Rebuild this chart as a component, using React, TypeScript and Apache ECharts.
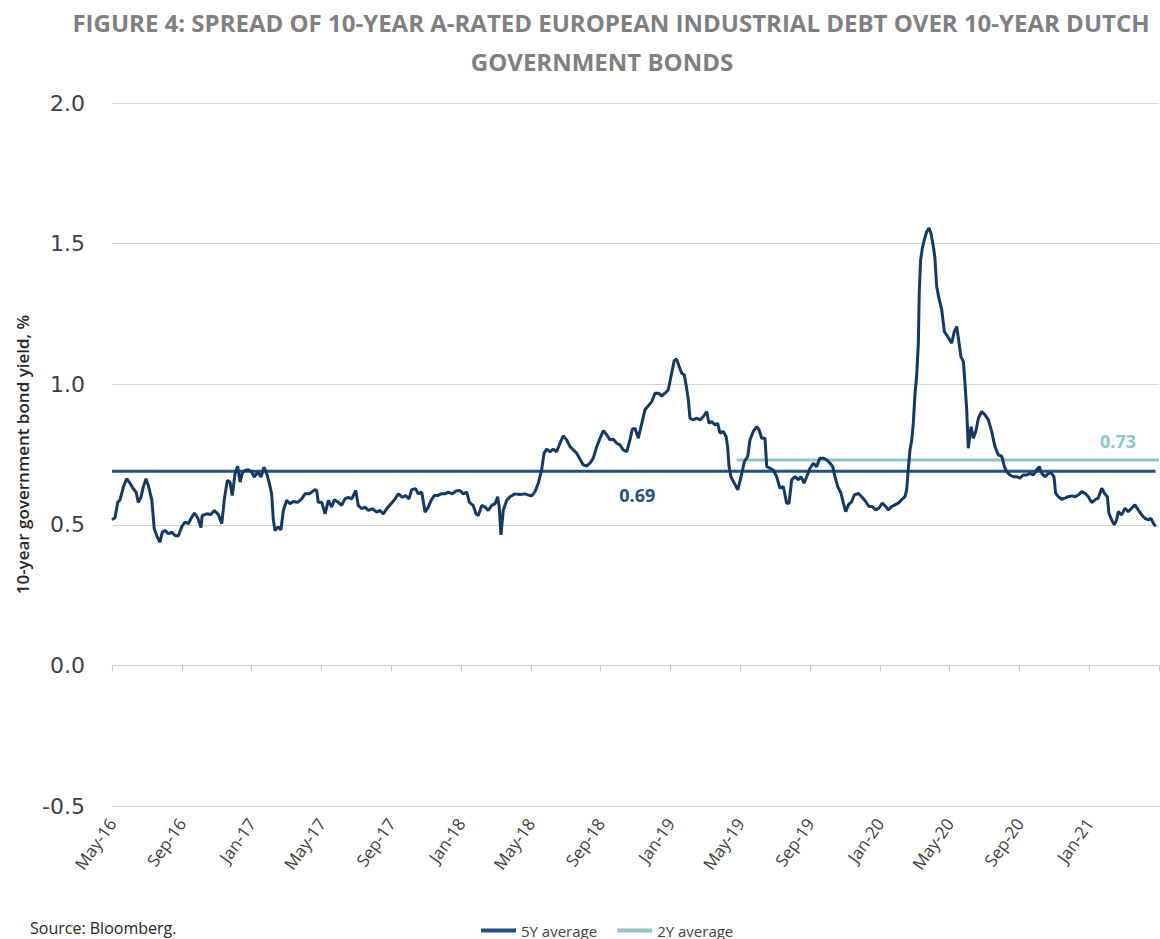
import React, { useEffect, useRef } from "react";
import * as echarts from "echarts";

const TITLE_LINE_1 = "FIGURE 4: SPREAD OF 10-YEAR A-RATED EUROPEAN INDUSTRIAL DEBT OVER 10-YEAR DUTCH";
const TITLE_LINE_2 = "GOVERNMENT BONDS";
const Y_AXIS_NAME = "10-year government bond yield, %";
const SOURCE_TEXT = "Source: Bloomberg.";

// x values are months elapsed since 1 May 2016
const xTickLabels = [
  "May-16", "Sep-16", "Jan-17", "May-17", "Sep-17", "Jan-18", "May-18", "Sep-18",
  "Jan-19", "May-19", "Sep-19", "Jan-20", "May-20", "Sep-20", "Jan-21",
];
const X_MIN = 0;
const X_MAX = 60;
const X_STEP = 4;

const Y_MIN = -0.5;
const Y_MAX = 2.0;
const Y_STEP = 0.5;

// [months since May-16, spread %]
const spread: [number, number][] = [
  [0, 0.518], [0.17, 0.525], [0.33, 0.58], [0.46, 0.589], [0.65, 0.634], [0.84, 0.664], [1.03, 0.648],
  [1.22, 0.628], [1.38, 0.616], [1.51, 0.58], [1.66, 0.598], [1.79, 0.634], [1.95, 0.664], [2.08, 0.64],
  [2.28, 0.589], [2.42, 0.486], [2.6, 0.456], [2.75, 0.438], [2.88, 0.474], [3.04, 0.48], [3.23, 0.468],
  [3.42, 0.474], [3.61, 0.462], [3.8, 0.46], [3.99, 0.492], [4.18, 0.51], [4.37, 0.504], [4.57, 0.527],
  [4.72, 0.542], [4.91, 0.525], [5.1, 0.49], [5.17, 0.533], [5.43, 0.539], [5.67, 0.537], [5.86, 0.551],
  [6.09, 0.537], [6.29, 0.504], [6.44, 0.592], [6.61, 0.658], [6.76, 0.652], [6.89, 0.604], [7.05, 0.681],
  [7.2, 0.708], [7.34, 0.652], [7.47, 0.684], [7.62, 0.693], [7.81, 0.696], [8.01, 0.687], [8.15, 0.67],
  [8.35, 0.687], [8.54, 0.67], [8.71, 0.705], [8.87, 0.681], [9.0, 0.652], [9.15, 0.61], [9.24, 0.521],
  [9.34, 0.48], [9.53, 0.492], [9.68, 0.482], [9.82, 0.551], [10.01, 0.587], [10.2, 0.575], [10.39, 0.583],
  [10.64, 0.58], [10.87, 0.592], [11.06, 0.61], [11.29, 0.61], [11.44, 0.616], [11.63, 0.625], [11.73, 0.622],
  [11.82, 0.58], [12.02, 0.58], [12.21, 0.539], [12.4, 0.587], [12.59, 0.563], [12.74, 0.589], [12.97, 0.58],
  [13.16, 0.569], [13.35, 0.592], [13.54, 0.598], [13.74, 0.592], [13.97, 0.622], [14.11, 0.569], [14.31, 0.557],
  [14.5, 0.563], [14.69, 0.551], [14.92, 0.557], [15.17, 0.545], [15.36, 0.551], [15.55, 0.539], [15.74, 0.557],
  [15.99, 0.575], [16.22, 0.592], [16.41, 0.61], [16.64, 0.598], [16.83, 0.604], [17.02, 0.592], [17.17, 0.625],
  [17.4, 0.628], [17.55, 0.61], [17.75, 0.616], [17.94, 0.545], [18.13, 0.563], [18.28, 0.587], [18.47, 0.604],
  [18.66, 0.604], [18.85, 0.61], [19.08, 0.61], [19.27, 0.616], [19.5, 0.61], [19.7, 0.62], [19.94, 0.622],
  [20.13, 0.61], [20.33, 0.616], [20.48, 0.58], [20.7, 0.569], [20.86, 0.539], [20.99, 0.533], [21.19, 0.569],
  [21.38, 0.563], [21.56, 0.551], [21.76, 0.569], [21.95, 0.575], [22.1, 0.6], [22.19, 0.563], [22.29, 0.464],
  [22.42, 0.551], [22.62, 0.587], [22.81, 0.6], [23.09, 0.61], [23.38, 0.608], [23.67, 0.61], [23.95, 0.604],
  [24.05, 0.603], [24.24, 0.618], [24.43, 0.648], [24.62, 0.695], [24.76, 0.755], [24.91, 0.769], [25.1, 0.76],
  [25.29, 0.769], [25.48, 0.76], [25.67, 0.79], [25.86, 0.816], [26.06, 0.802], [26.25, 0.778], [26.44, 0.766],
  [26.63, 0.755], [26.82, 0.733], [27.01, 0.713], [27.2, 0.709], [27.39, 0.719], [27.58, 0.737], [27.78, 0.778],
  [27.97, 0.808], [28.16, 0.835], [28.35, 0.82], [28.54, 0.802], [28.73, 0.804], [28.92, 0.79], [29.11, 0.784],
  [29.3, 0.766], [29.5, 0.76], [29.68, 0.802], [29.82, 0.84], [29.97, 0.843], [30.16, 0.808], [30.36, 0.861],
  [30.54, 0.909], [30.73, 0.923], [30.93, 0.938], [31.12, 0.968], [31.31, 0.968], [31.5, 0.958], [31.69, 0.968],
  [31.88, 0.98], [32.07, 1.039], [32.22, 1.084], [32.36, 1.089], [32.49, 1.065], [32.65, 1.039], [32.8, 1.033],
  [32.93, 0.986], [33.03, 0.944], [33.12, 0.879], [33.31, 0.873], [33.51, 0.879], [33.7, 0.873], [33.89, 0.885],
  [34.08, 0.903], [34.21, 0.861], [34.37, 0.867], [34.56, 0.855], [34.71, 0.861], [34.84, 0.826], [35.03, 0.832],
  [35.19, 0.814], [35.28, 0.778], [35.36, 0.707], [35.47, 0.671], [35.66, 0.648], [35.86, 0.624], [36.05, 0.671],
  [36.24, 0.725], [36.43, 0.743], [36.56, 0.802], [36.75, 0.832], [36.95, 0.849], [37.08, 0.838], [37.23, 0.808],
  [37.42, 0.808], [37.52, 0.707], [37.71, 0.701], [37.9, 0.695], [38.09, 0.671], [38.28, 0.63], [38.47, 0.636],
  [38.66, 0.577], [38.8, 0.577], [38.95, 0.66], [39.14, 0.671], [39.33, 0.66], [39.48, 0.671], [39.66, 0.648],
  [39.81, 0.671], [40.0, 0.701], [40.19, 0.719], [40.38, 0.707], [40.57, 0.737], [40.76, 0.737], [40.96, 0.731],
  [41.15, 0.719], [41.3, 0.707], [41.43, 0.671], [41.59, 0.636], [41.78, 0.612], [41.91, 0.577], [42.05, 0.547],
  [42.2, 0.571], [42.39, 0.583], [42.54, 0.606], [42.77, 0.612], [42.96, 0.6], [43.19, 0.583], [43.38, 0.565],
  [43.57, 0.565], [43.76, 0.553], [43.95, 0.559], [44.14, 0.577], [44.34, 0.565], [44.49, 0.553], [44.68, 0.565],
  [44.87, 0.571], [45.06, 0.577], [45.25, 0.589], [45.44, 0.6], [45.54, 0.624], [45.63, 0.695], [45.73, 0.766],
  [45.83, 0.802], [45.92, 0.861], [46.02, 0.968], [46.11, 1.028], [46.21, 1.147], [46.26, 1.325], [46.34, 1.442],
  [46.44, 1.484], [46.55, 1.513], [46.69, 1.543], [46.82, 1.555], [46.93, 1.537], [47.07, 1.489], [47.16, 1.448],
  [47.26, 1.347], [47.39, 1.306], [47.55, 1.264], [47.7, 1.187], [47.83, 1.175], [48.12, 1.146], [48.27, 1.187],
  [48.41, 1.205], [48.5, 1.164], [48.65, 1.098], [48.79, 1.08], [48.88, 1.004], [48.98, 0.909], [49.07, 0.772],
  [49.23, 0.849], [49.36, 0.808], [49.5, 0.832], [49.65, 0.879], [49.84, 0.903], [50.03, 0.891], [50.22, 0.873],
  [50.41, 0.832], [50.6, 0.778], [50.79, 0.749], [50.99, 0.743], [51.14, 0.707], [51.27, 0.689], [51.46, 0.677],
  [51.65, 0.671], [51.85, 0.671], [52.03, 0.666], [52.22, 0.677], [52.42, 0.677], [52.61, 0.683], [52.8, 0.677],
  [52.99, 0.695], [53.14, 0.707], [53.28, 0.683], [53.47, 0.671], [53.66, 0.683], [53.85, 0.683], [53.98, 0.671],
  [54.08, 0.612], [54.23, 0.6], [54.42, 0.591], [54.61, 0.595], [54.8, 0.6], [55.0, 0.603], [55.19, 0.6],
  [55.38, 0.606], [55.57, 0.618], [55.76, 0.612], [55.95, 0.6], [56.14, 0.579], [56.33, 0.589], [56.52, 0.595],
  [56.72, 0.63], [56.87, 0.612], [57.04, 0.6], [57.13, 0.541], [57.29, 0.517], [57.44, 0.5], [57.57, 0.517],
  [57.67, 0.547], [57.86, 0.535], [58.05, 0.559], [58.24, 0.547], [58.43, 0.559], [58.62, 0.571], [58.81, 0.553],
  [59.01, 0.535], [59.2, 0.523], [59.39, 0.517], [59.54, 0.523], [59.67, 0.506], [59.81, 0.494],
];

const AVG_5Y = 0.69;
const AVG_5Y_START = 0;
const AVG_5Y_END = 59.8;
const AVG_5Y_LABEL_AT = 30.1;

const AVG_2Y = 0.73;
const AVG_2Y_START = 35.8;
const AVG_2Y_END = 60;
const AVG_2Y_LABEL_AT = 57.65;

const COLOR_SPREAD = "#143966";
const COLOR_5Y = "#1f4f85";
const COLOR_2Y = "#8fc4c8";
const GRID_COLOR = "#d6d6de";
const TEXT_COLOR = "#404040";

export default function App() {
  const ref = useRef<HTMLDivElement>(null);

  useEffect(() => {
    if (!ref.current) return;
    const chart = echarts.init(ref.current, undefined, { renderer: "svg" });

    const xLabel = (v: number) => {
      const idx = Math.round((v - X_MIN) / X_STEP);
      return xTickLabels[idx] ?? "";
    };

    const splitColors = [];
    for (let v = Y_MIN; v <= Y_MAX + 1e-9; v += Y_STEP) {
      splitColors.push(Math.abs(v) < 1e-9 ? "rgba(0,0,0,0)" : GRID_COLOR);
    }

    const option: any = {
      animation: false,
      backgroundColor: "#ffffff",
      grid: { left: 112, right: 1, top: 103, bottom: 133, containLabel: false },
      graphic: [
        {
          type: "text",
          x: 611,
          y: 22,
          style: {
            text: TITLE_LINE_1,
            textAlign: "center",
            textVerticalAlign: "middle",
            font: "bold 24px 'Open Sans'",
            fill: "#7f7f7f",
          },
        },
        {
          type: "text",
          x: 602,
          y: 61,
          style: {
            text: TITLE_LINE_2,
            textAlign: "center",
            textVerticalAlign: "middle",
            font: "bold 24px 'Open Sans'",
            fill: "#7f7f7f",
          },
        },
        {
          type: "text",
          x: 30,
          y: 928,
          style: {
            text: SOURCE_TEXT,
            textAlign: "left",
            textVerticalAlign: "middle",
            font: "16px 'Open Sans'",
            fill: "#262626",
          },
        },
      ],
      legend: {
        data: ["5Y average", "2Y average"],
        left: 476,
        top: 918,
        icon: "rect",
        itemWidth: 35,
        itemHeight: 4,
        itemGap: 20,
        textStyle: { fontSize: 15, color: TEXT_COLOR, fontFamily: "Open Sans" },
      },
      xAxis: [
        {
          type: "value",
          min: X_MIN,
          max: X_MAX,
          interval: X_STEP,
          position: "bottom",
          axisLine: { show: true, onZero: true, lineStyle: { color: "#c4c4c4", type: "dotted", width: 1 } },
          axisTick: { show: true, length: 6, lineStyle: { color: "#c4c4c4" } },
          axisLabel: { show: false },
          splitLine: { show: false },
        },
        {
          type: "value",
          min: X_MIN,
          max: X_MAX,
          interval: X_STEP,
          position: "bottom",
          axisLine: { show: false, onZero: false },
          axisTick: { show: false },
          splitLine: { show: false },
          axisLabel: {
            show: true,
            rotate: 55,
            margin: 14,
            fontSize: 17,
            color: TEXT_COLOR,
            fontFamily: "Open Sans",
            formatter: xLabel,
            showMaxLabel: false,
          },
        },
      ],
      yAxis: {
        type: "value",
        min: Y_MIN,
        max: Y_MAX,
        interval: Y_STEP,
        axisLine: { show: false },
        axisTick: { show: false },
        axisLabel: {
          formatter: (v: number) => v.toFixed(1),
          fontSize: 22,
          color: TEXT_COLOR,
          fontFamily: "DejaVu Sans",
          margin: 27,
        },
        splitLine: { show: true, lineStyle: { color: splitColors, width: 1 } },
        name: Y_AXIS_NAME,
        nameLocation: "middle",
        nameGap: 80,
        nameRotate: 90,
        nameTextStyle: { fontSize: 17, fontWeight: 600, color: "#262626", fontFamily: "Open Sans" },
      },
      series: [
        {
          name: "5Y average",
          type: "line",
          xAxisIndex: 0,
          data: [
            [AVG_5Y_START, AVG_5Y],
            {
              value: [AVG_5Y_LABEL_AT, AVG_5Y],
              label: {
                show: true,
                position: "bottom",
                distance: 15,
                formatter: AVG_5Y.toFixed(2),
                fontSize: 18,
                fontWeight: "bold",
                color: COLOR_5Y,
                fontFamily: "Open Sans",
              },
            },
            [AVG_5Y_END, AVG_5Y],
          ],
          symbol: "circle",
          symbolSize: 0,
          showSymbol: true,
          showAllSymbol: true,
          lineStyle: { color: COLOR_5Y, width: 3 },
          itemStyle: { color: COLOR_5Y },
          z: 2,
          silent: true,
        },
        {
          name: "2Y average",
          type: "line",
          xAxisIndex: 0,
          data: [
            [AVG_2Y_START, AVG_2Y],
            {
              value: [AVG_2Y_LABEL_AT, AVG_2Y],
              label: {
                show: true,
                position: "top",
                distance: 10,
                formatter: AVG_2Y.toFixed(2),
                fontSize: 18,
                fontWeight: "bold",
                color: COLOR_2Y,
                fontFamily: "Open Sans",
              },
            },
            [AVG_2Y_END, AVG_2Y],
          ],
          symbol: "circle",
          symbolSize: 0,
          showSymbol: true,
          showAllSymbol: true,
          lineStyle: { color: COLOR_2Y, width: 3 },
          itemStyle: { color: COLOR_2Y },
          z: 2,
          silent: true,
        },
        {
          name: "Spread",
          type: "line",
          xAxisIndex: 0,
          data: spread,
          showSymbol: false,
          symbol: "none",
          lineStyle: { color: COLOR_SPREAD, width: 3 },
          itemStyle: { color: COLOR_SPREAD },
          z: 3,
          silent: true,
        },
      ],
    };

    chart.setOption(option);
    return () => chart.dispose();
  }, []);

  return (
    <div
      ref={ref}
      style={{ position: "absolute", left: 0, top: 0, width: 1160, height: 939, background: "#fff" }}
    />
  );
}
